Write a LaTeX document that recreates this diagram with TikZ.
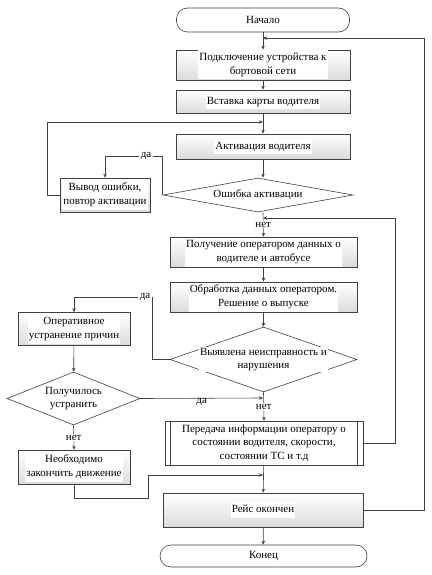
\documentclass[tikz,border=0pt]{standalone}
\usepackage{fontspec}
\setmainfont{Liberation Serif}
\usetikzlibrary{shapes.geometric,arrows.meta}
\setlength{\fboxsep}{1pt}
\newcommand{\wt}[1]{\colorbox{white}{\begin{tabular}{@{}c@{}}#1\end{tabular}}}

\tikzset{
  base/.style={draw=black!75, font=\fontsize{11}{13.5}\selectfont, inner sep=0pt, align=center},
  proc/.style={base, rectangle, top color=white, bottom color=black!14},
  term/.style={base, rectangle, rounded corners=11pt, fill=white},
  dia/.style={base, diamond, fill=white},
  lbl/.style={font=\fontsize{11}{13.5}\selectfont, fill=white, inner sep=1pt, align=center},
  >={Stealth[length=4pt,width=3.5pt]}
}

\begin{document}
\begin{tikzpicture}[x=1pt, y=-1pt, line width=0.6pt, draw=black!75]
  \useasboundingbox (0, 0) rectangle (431, 575);
  % main column
  \node (start) [term, minimum width=173, minimum height=24] at (263, 20) {Начало};
  \node (connect) [proc, minimum width=174, minimum height=30] at (263, 65) {\wt{Подключение устройства к\\бортовой сети}};
  \node (card) [proc, minimum width=174, minimum height=23] at (263, 101.5) {\wt{Вставка карты водителя}};
  \node (activ) [proc, minimum width=174, minimum height=25] at (263, 146.5) {\wt{Активация водителя}};
  \node (err) [dia, minimum width=190, minimum height=34,
    label={[lbl]center:Ошибка активации}] at (258, 195) {};
  \node (errout) [proc, minimum width=90, minimum height=34] at (105, 195) {\wt{Вывод ошибки,\\повтор активации}};
  \node (recv) [proc, minimum width=187, minimum height=30] at (263.5, 252) {\wt{Получение оператором данных о\\водителе и автобусе}};
  \node (proc) [proc, minimum width=187, minimum height=30] at (263.5, 297) {\wt{Обработка данных оператором.\\Решение о выпуске}};
  \node (fault) [dia, minimum width=187, minimum height=65,
    label={[lbl]center:Выявлена неисправность и\\нарушения}] at (263.5, 359.5) {};
  \node (fix) [proc, minimum width=112, minimum height=33] at (74, 329) {\wt{Оперативное\\устранение причин}};
  \node (fixed) [dia, minimum width=133, minimum height=53,
    label={[lbl]center:Получилось\\устранить}] at (73.5, 398.5) {};
  \node (info) [base, fill=white, minimum width=198, minimum height=44] at (264, 443) {Передача информации оператору о\\состоянии водителя, скорости,\\состоянии ТС и т.д};
  \draw [black!75] ([xshift=6pt]info.north west) -- ([xshift=6pt]info.south west);
  \draw [black!75] ([xshift=-6pt]info.north east) -- ([xshift=-6pt]info.south east);
  \node (need) [proc, minimum width=112, minimum height=34] at (74, 467) {\wt{Необходимо\\закончить движение}};
  \node (endtrip) [proc, minimum width=200, minimum height=34] at (263, 510) {\wt{Рейс окончен}};
  \node (finish) [term, minimum width=207, minimum height=22] at (263.5, 556) {Конец};

  % labels
  \node (yes1) [lbl] at (146, 156) {да};
  \node (yes2) [lbl] at (145, 297) {да};

  % junctions on the main line
  \coordinate (j0) at (263, 38);
  \coordinate (j1) at (263, 122);
  \coordinate (j2) at (263, 218);
  \coordinate (j3) at (263, 398);
  \coordinate (j4) at (263, 475);

  % connectors
  \draw [->] (start) -- (connect);
  \draw [->] (connect) -- (card);
  \draw [->] (card) -- (activ);
  \draw [->] (activ.south) -- (activ.south |- err.north);
  \draw [->] (err.west) |- (yes1) -| (errout.north);
  \draw [->] (errout.west) -- ++(-12, 0) |- (j1);
  \draw [->] (activ.south |- err.south) -- node [lbl] {нет} (recv.north);
  \draw [->] (recv) -- (proc);
  \draw [->] (proc) -- (fault);
  \draw [->] (fault.west) -- ++(-17, 0) |- (yes2) -| (fix.north);
  \draw [->] (fix) -- (fixed);
  \draw [->] (fixed.east) -- node [lbl, fill=none, anchor=north, inner sep=0pt] {да} (j3);
  \draw [->] (fault.south) -- node [lbl] {нет} (info.north);
  \draw [->] (fixed.south) -- node [lbl] {нет} (need.north);
  \draw [->] (info.east) -- ++(32, 0) |- (j2);
  \draw [->] (info) -- (endtrip);
  \draw [->] (need.south) -- ++(0, 14) -- ++(74, 0) |- (j4);
  \draw [->] (endtrip.east) -- ++(61, 0) |- (j0);
  \draw [->] (endtrip) -- (finish);
\end{tikzpicture}
\end{document}
